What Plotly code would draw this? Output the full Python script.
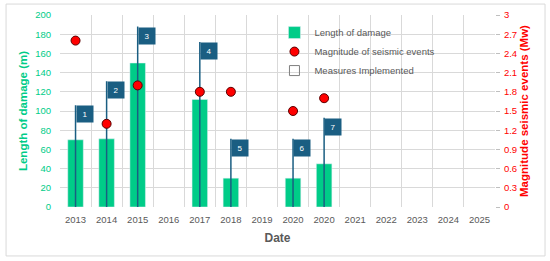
import plotly.graph_objects as go

years = ["2013", "2014", "2015", "2016", "2017", "2018", "2019", "2020", "2020",
         "2021", "2022", "2023", "2024", "2025"]
damage_len = [70, 71, 150, None, 112, 30, None, 30, 45, None, None, None, None, None]
magnitude = [2.6, 1.3, 1.9, None, 1.8, 1.8, None, 1.5, 1.7, None, None, None, None, None]
flag_idx = [0, 1, 2, 4, 5, 7, 8]
flag_labels = ["1", "2", "3", "4", "5", "6", "7"]
flag_top = [106, 131, 188, 172, 71, 71, 93]

x = list(range(len(years)))
GREEN = "#00CC88"
RED = "#FF0000"
GRID = "#D9D9D9"
FLAG = "#1A5E82"
GRAY = "#595959"
FONT = "Liberation Sans"

fig = go.Figure()
fig.add_trace(go.Bar(x=x, y=damage_len, name="Length of damage", marker_color=GREEN,
                     width=0.5, yaxis="y"))

pole_x, pole_y = [], []
for i, t in zip(flag_idx, flag_top):
    pole_x += [i, i, None]
    pole_y += [0, t, None]
fig.add_trace(go.Scatter(x=pole_x, y=pole_y, mode="lines", line=dict(color=FLAG, width=1.5),
                         showlegend=False, hoverinfo="skip", yaxis="y"))

fig.add_trace(go.Scatter(x=x, y=magnitude, mode="markers", name="Magnitude of seismic events",
                         marker=dict(color=RED, size=9, line=dict(color="#5a0000", width=1)),
                         yaxis="y2"))
fig.add_trace(go.Scatter(x=[None], y=[None], mode="markers", name="Measures Implemented",
                         marker=dict(symbol="square-open", color="#7F7F7F", size=10,
                                     line=dict(width=1)),
                         yaxis="y"))

for i, t, lab in zip(flag_idx, flag_top, flag_labels):
    fig.add_annotation(x=i, y=t, xref="x", yref="y", xanchor="left", yanchor="top",
                       text=lab, showarrow=False, bgcolor=FLAG, width=16, height=16,
                       borderpad=0, font=dict(color="white", size=8, family=FONT))

fig.add_shape(type="rect", xref="paper", yref="paper", x0=-0.124, x1=1.115, y0=-0.255, y1=1.057,
              line=dict(color=GRID, width=1), fillcolor="rgba(0,0,0,0)", layer="below")

fig.update_layout(
    width=550, height=261,
    margin=dict(l=60, r=55, t=15, b=54, autoexpand=False),
    paper_bgcolor="white", plot_bgcolor="white",
    font=dict(family=FONT, color=GRAY, size=9),
    bargap=0.5,
    xaxis=dict(range=[-0.5, 13.5], tickmode="array", tickvals=x, ticktext=years,
               automargin=False, ticklabelstandoff=5,
               showgrid=False, zeroline=False, showline=False,
               tickfont=dict(size=9.5, color=GRAY),
               minor=dict(tickmode="array", tickvals=[v - 0.5 for v in range(15)],
                          showgrid=True, gridcolor=GRID, gridwidth=1, ticks=""),
               title=dict(text="<b>Date</b>", font=dict(size=12, color=GRAY), standoff=10)),
    yaxis=dict(range=[0, 200], dtick=20, showgrid=True, gridcolor=GRID, zeroline=False,
               automargin=False, ticklabelstandoff=8,
               tickfont=dict(size=9.5, color=GREEN), ticks="", ticklen=0,
               title=dict(text="<b>Length of damage (m)</b>", font=dict(size=11.5, color=GREEN),
                          standoff=5)),
    yaxis2=dict(range=[0, 3], tickmode="array",
                tickvals=[0, 0.3, 0.6, 0.9, 1.2, 1.5, 1.8, 2.1, 2.4, 2.7, 3],
                ticktext=["0", "0.3", "0.6", "0.9", "1.2", "1.5", "1.8", "2.1", "2.4", "2.7", "3"],
                overlaying="y", side="right", showgrid=False, zeroline=False,
                automargin=False, ticklabelstandoff=2,
                ticks="outside", ticklen=4, tickcolor="#BFBFBF",
                tickfont=dict(size=9.5, color=RED),
                title=dict(text="<b>Magnitude seismic events (Mw)</b>",
                           font=dict(size=11.5, color=RED), standoff=3)),
    legend=dict(x=0.493, y=0.984, xanchor="left", yanchor="top", bgcolor="rgba(0,0,0,0)",
                font=dict(size=9.5, color=GRAY), itemwidth=30, tracegroupgap=0),
    showlegend=True,
)

fig.write_html("out.html", config={"displayModeBar": False},
               post_script="document.body.style.margin='0';")
